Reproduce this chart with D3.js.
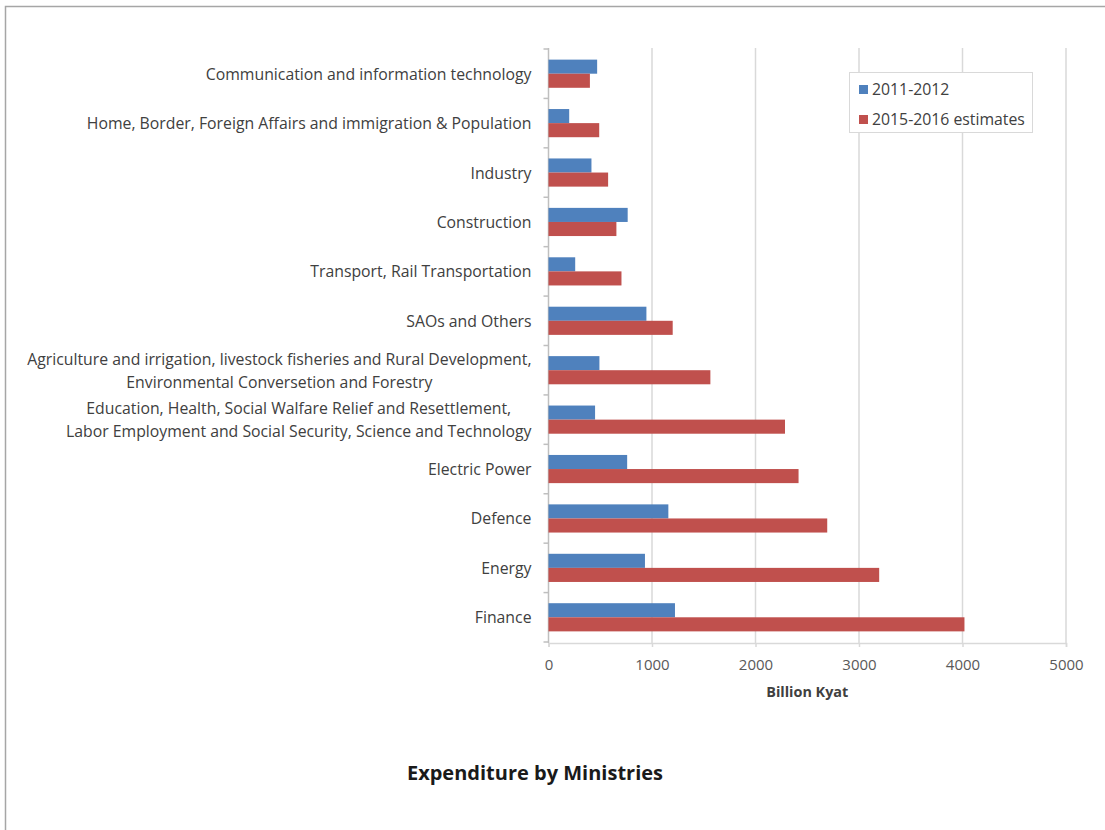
<!DOCTYPE html>
<html>
<head>
<meta charset="utf-8">
<script src="https://cdn.jsdelivr.net/npm/d3@7"></script>
<style>
  body { margin: 0; background: #fff; }
  text { font-family: "Open Sans", "Noto Sans", sans-serif; fill: #404040; }
  .tick text { fill: #595959; }
</style>
</head>
<body>
<div id="chart"></div>
<script>
// chart data
var categories = [
  ["Communication and information technology"],
  ["Home, Border, Foreign Affairs and immigration & Population"],
  ["Industry"],
  ["Construction"],
  ["Transport, Rail Transportation"],
  ["SAOs and Others"],
  ["Agriculture and irrigation, livestock fisheries and Rural Development,", "Environmental Conversetion and Forestry"],
  ["Education, Health, Social Walfare Relief and Resettlement,", "Labor Employment and Social Security, Science and Technology"],
  ["Electric Power"],
  ["Defence"],
  ["Energy"],
  ["Finance"]
];
var seriesNames = ["2011-2012", "2015-2016 estimates"];
var values2011 = [470, 200, 415, 765, 258, 946, 492, 450, 760, 1158, 932, 1222];
var values2015 = [400, 490, 576, 656, 705, 1200, 1564, 2285, 2416, 2693, 3195, 4019];
var xTicks = [0, 1000, 2000, 3000, 4000, 5000];
var colors = ["#4f81bd", "#c0504d"];

var SVG_W = 1105, SVG_H = 830;
var PLOT_LEFT = 548.5, PLOT_RIGHT = 1066, PLOT_TOP = 49, PLOT_BOTTOM = 642;
var LABEL_SIZE = '15.8px';

var svg = d3.select('#chart').append('svg')
  .attr('width', SVG_W).attr('height', SVG_H);

// outer frame (only top and left visible)
svg.append('path')
  .attr('d', 'M5.5,' + SVG_H + ' L5.5,6.5 L' + SVG_W + ',6.5')
  .attr('fill', 'none').attr('stroke', '#a6a6a6').attr('stroke-width', 1.5);

var x = d3.scaleLinear().domain([0, 5000]).range([PLOT_LEFT, PLOT_RIGHT]);
var y = d3.scaleBand().domain(d3.range(categories.length))
  .range([PLOT_TOP, PLOT_BOTTOM]).paddingInner(0.43).paddingOuter(0.215);
var ys = d3.scaleBand().domain([0, 1]).range([0, y.bandwidth()]);

// gridlines
svg.append('g').selectAll('line').data(xTicks.slice(1)).enter().append('line')
  .attr('x1', function(d){ return x(d); }).attr('x2', function(d){ return x(d); })
  .attr('y1', PLOT_TOP - 1).attr('y2', PLOT_BOTTOM + 1)
  .attr('stroke', '#d9d9d9').attr('stroke-width', 1.5);

// x axis
var xAxis = svg.append('g')
  .attr('transform', 'translate(0,' + (PLOT_BOTTOM + 1) + ')')
  .call(d3.axisBottom(x).tickValues(xTicks).tickSize(4).tickPadding(12).tickFormat(d3.format('d')));
xAxis.select('.domain').attr('stroke', '#d9d9d9').attr('stroke-width', 1.5);
xAxis.selectAll('.tick line').attr('stroke', '#d9d9d9').attr('stroke-width', 1.5);
xAxis.selectAll('.tick text').style('font-size', '15px');

// y axis line and category ticks
svg.append('line')
  .attr('x1', PLOT_LEFT).attr('x2', PLOT_LEFT).attr('y1', PLOT_TOP - 1).attr('y2', PLOT_BOTTOM + 1)
  .attr('stroke', '#bfbfbf').attr('stroke-width', 1.5);
svg.append('g').selectAll('line').data(d3.range(categories.length + 1)).enter().append('line')
  .attr('x1', PLOT_LEFT - 5).attr('x2', PLOT_LEFT)
  .attr('y1', function(d){ return PLOT_TOP + d * (PLOT_BOTTOM - PLOT_TOP) / categories.length; })
  .attr('y2', function(d){ return PLOT_TOP + d * (PLOT_BOTTOM - PLOT_TOP) / categories.length; })
  .attr('stroke', '#bfbfbf').attr('stroke-width', 1.5);

// bars
var groups = svg.append('g').selectAll('g').data(categories).enter().append('g')
  .attr('transform', function(d, i){ return 'translate(0,' + y(i) + ')'; });

groups.append('rect')
  .attr('x', x(0)).attr('y', ys(0)).attr('height', ys.bandwidth())
  .attr('width', function(d, i){ return x(values2011[i]) - x(0); })
  .attr('fill', colors[0]);
groups.append('rect')
  .attr('x', x(0)).attr('y', ys(1)).attr('height', ys.bandwidth())
  .attr('width', function(d, i){ return x(values2015[i]) - x(0); })
  .attr('fill', colors[1]);

// category labels: block right aligned, lines centred inside block
var labels = groups.append('text')
  .style('font-size', LABEL_SIZE);
labels.each(function(d){
  var t = d3.select(this);
  var cy = y.bandwidth() / 2;
  d.forEach(function(line, k){
    t.append('tspan').attr('x', 0)
      .attr('y', cy + (k - (d.length - 1) / 2) * 22.7 + 6)
      .text(line);
  });
  // measure and align
  var widths = [];
  t.selectAll('tspan').each(function(){ widths.push(this.getComputedTextLength()); });
  var maxW = d3.max(widths);
  var rightEdge = PLOT_LEFT - 17;
  t.selectAll('tspan').attr('x', function(_, k){
    return rightEdge - maxW / 2 - widths[k] / 2;
  });
});

// legend
var legend = svg.append('g');
legend.append('rect')
  .attr('x', 849.5).attr('y', 72.5).attr('width', 183).attr('height', 60)
  .attr('fill', '#fff').attr('stroke', '#d9d9d9');
seriesNames.forEach(function(name, i){
  legend.append('rect')
    .attr('x', 859).attr('y', 85 + i * 30).attr('width', 9).attr('height', 9)
    .attr('fill', colors[i]);
  legend.append('text')
    .attr('x', 872).attr('y', 94.5 + i * 30)
    .style('font-size', LABEL_SIZE)
    .text(name);
});

// axis title
svg.append('text')
  .attr('x', (PLOT_LEFT + PLOT_RIGHT) / 2).attr('y', 697)
  .attr('text-anchor', 'middle')
  .style('font-size', '14.4px').style('font-weight', 'bold')
  .text('Billion Kyat');

// chart title
svg.append('text')
  .attr('x', 535).attr('y', 780)
  .attr('text-anchor', 'middle')
  .style('font-size', '20px').style('font-weight', 'bold').style('fill', '#1a1a1a')
  .text('Expenditure by Ministries');
</script>
</body>
</html>
